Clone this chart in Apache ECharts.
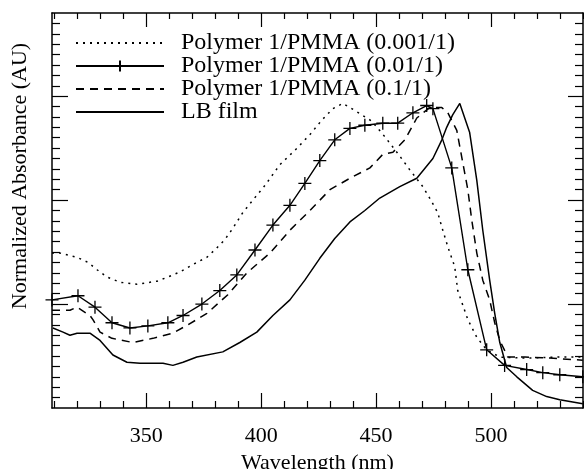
<!DOCTYPE html>
<html>
<head>
<meta charset="utf-8">
<script src="https://cdn.jsdelivr.net/npm/echarts@6/dist/echarts.min.js"></script>
<style>
html,body{margin:0;padding:0;background:#fff;}
#chart{width:584px;height:469px;}
</style>
</head>
<body>
<div id="chart"></div>
<script>
// ---- data ----
const seriesNames = ['Polymer 1/PMMA (0.001/1)', 'Polymer 1/PMMA (0.01/1)', 'Polymer 1/PMMA (0.1/1)', 'LB film'];

const wlP001 = [309.0,312.5,319.9,324.7,328.6,332.9,338.6,346.0,354.7,359.4,364.7,370.3,376.4,380.7,384.2,387.7,392.0,396.4,401.6,408.1,414.7,421.2,426.4,431.2,435.5,439.4,443.8,448.1,453.8,459.4,464.7,470.3,473.3,476.8,478.6,481.2,484.2,485.5,489.9,493.8,498.1,503.8,515.5,527.7,539.9];
const absP001 = [1.49,1.49,1.45,1.40,1.33,1.26,1.21,1.19,1.22,1.26,1.31,1.38,1.45,1.54,1.62,1.73,1.88,2.00,2.14,2.34,2.48,2.63,2.77,2.88,2.93,2.88,2.82,2.76,2.61,2.45,2.29,2.13,2.02,1.88,1.74,1.55,1.36,1.13,0.85,0.68,0.56,0.49,0.48,0.49,0.49];

const wlP01 = [309.0,320.3,327.7,335.1,342.9,350.7,359.4,366.0,374.2,382.0,389.4,397.3,405.1,412.5,419.0,425.5,432.0,438.6,445.1,452.9,459.4,466.0,472.0,474.7,482.9,489.9,498.1,505.9,515.5,522.5,529.9,539.9];
const absP01 = [1.04,1.08,0.97,0.82,0.77,0.79,0.82,0.89,1.00,1.13,1.28,1.52,1.76,1.95,2.16,2.38,2.58,2.69,2.72,2.74,2.74,2.84,2.91,2.88,2.31,1.33,0.56,0.41,0.37,0.34,0.32,0.30];

const wlP1 = [309.0,316.8,319.9,325.5,326.8,329.9,335.1,344.2,352.9,361.6,368.1,376.4,385.5,393.8,403.8,412.5,421.2,429.9,438.6,447.3,452.9,457.3,462.5,467.7,473.3,478.6,481.2,485.1,487.7,489.9,491.6,493.8,496.4,499.4,501.6,503.8,507.3,514.7,525.5,539.9];
const absP1 = [0.94,0.94,0.97,0.89,0.85,0.73,0.67,0.63,0.67,0.72,0.80,0.91,1.09,1.30,1.49,1.71,1.90,2.10,2.21,2.31,2.44,2.46,2.58,2.79,2.89,2.89,2.84,2.67,2.36,2.10,1.81,1.49,1.23,1.04,0.82,0.65,0.49,0.49,0.48,0.46];

const wlLB = [309.4,313.8,316.8,319.9,325.5,329.9,335.5,341.6,347.3,357.3,361.6,366.0,372.0,383.3,390.7,398.1,405.1,412.5,419.0,425.5,432.0,438.6,445.1,451.6,460.3,467.7,474.7,478.6,480.7,483.3,486.4,490.7,493.8,496.4,499.4,501.6,503.8,506.8,511.2,518.1,524.2,529.9,539.9];
const absLB = [0.77,0.73,0.70,0.72,0.72,0.65,0.51,0.44,0.43,0.43,0.41,0.44,0.49,0.54,0.63,0.73,0.89,1.04,1.23,1.44,1.63,1.79,1.90,2.02,2.13,2.21,2.40,2.58,2.70,2.82,2.93,2.65,2.19,1.71,1.23,0.91,0.63,0.39,0.30,0.17,0.11,0.08,0.04];

// ---- axes / ticks ----
const xMin = 309, xMax = 540;
const yMin = 0, yMax = 3.8;
const xMajorTicks = [350, 400, 450, 500];
const xMinorTicks = [310,320,330,340,360,370,380,390,410,420,430,440,460,470,480,490,510,520,530,540];
const yMajorTicks = [1, 2, 3];
const yMinorTicks = [];
for (let k = 1; k <= 37; k++) { if (k % 10 !== 0) yMinorTicks.push(+(k / 10).toFixed(1)); }

const FONT = "'Liberation Serif','Times New Roman',serif";
const zip = (xs, ys) => xs.map((x, i) => [x, ys[i]]);

function xAx(pos, ticks, len, showLine, showLabel) {
  return {
    type: 'value', min: xMin, max: xMax, position: pos,
    axisLine: { show: showLine, onZero: false, lineStyle: { color: '#000', width: 1.5 } },
    axisTick: { show: true, inside: true, length: len, customValues: ticks, lineStyle: { color: '#000', width: 1.2 } },
    axisLabel: showLabel ? { show: true, customValues: xMajorTicks, color: '#000', fontSize: 22, fontFamily: FONT, margin: 17 } : { show: false },
    splitLine: { show: false }
  };
}
function yAx(pos, ticks, len, showLine) {
  return {
    type: 'value', min: yMin, max: yMax, position: pos,
    axisLine: { show: showLine, onZero: false, lineStyle: { color: '#000', width: 1.5 } },
    axisTick: { show: true, inside: true, length: len, customValues: ticks, lineStyle: { color: '#000', width: 1.2 } },
    axisLabel: { show: false },
    splitLine: { show: false }
  };
}

const xAxes = [
  xAx('bottom', xMajorTicks, 15, true, true),
  xAx('bottom', xMinorTicks, 7, false, false),
  xAx('top', xMajorTicks, 14, true, false),
  xAx('top', xMinorTicks, 6, false, false)
];
xAxes[0].name = 'Wavelength (nm)';
xAxes[0].nameLocation = 'middle';
xAxes[0].nameGap = 44;
xAxes[0].nameTextStyle = { color: '#000', fontSize: 22, fontFamily: FONT };

const yAxes = [
  yAx('left', yMajorTicks, 16, true),
  yAx('left', yMinorTicks, 8, false),
  yAx('right', yMajorTicks, 15, true),
  yAx('right', yMinorTicks, 8, false)
];

const noSymbol = { color: 'rgba(0,0,0,0)', borderColor: 'rgba(0,0,0,0)', borderWidth: 0 };

const chart = echarts.init(document.getElementById('chart'), null, { renderer: 'canvas' });
chart.setOption({
  animation: false,
  backgroundColor: '#fff',
  grid: { left: 52, right: 1, top: 13, bottom: 61, containLabel: false, outerBoundsMode: 'none' },
  xAxis: xAxes,
  yAxis: yAxes,
  legend: {
    left: 75, top: 31, orient: 'vertical', padding: 0,
    itemWidth: 88, itemHeight: 14, itemGap: -1,
    textStyle: { color: '#000', fontSize: 24, lineHeight: 20, fontFamily: FONT, padding: [0, 0, 0, 12] },
    data: [
      { name: seriesNames[0], itemStyle: noSymbol },
      { name: seriesNames[1] },
      { name: seriesNames[2], itemStyle: noSymbol },
      { name: seriesNames[3], itemStyle: noSymbol }
    ]
  },
  graphic: [{
    type: 'text', x: 20, y: 176, rotation: Math.PI / 2,
    style: { text: 'Normalized Absorbance (AU)', font: "22px 'Liberation Serif','Times New Roman',serif", fill: '#000', align: 'center', verticalAlign: 'middle' }
  }],
  series: [
    { name: seriesNames[0], type: 'line', data: zip(wlP001, absP001), symbol: 'none',
      lineStyle: { color: '#000', width: 1.5, type: [2, 5] }, itemStyle: { color: '#000' } },
    { name: seriesNames[1], type: 'line', data: zip(wlP01, absP01),
      symbol: 'path://M6,0 L6,12 M0,6 L12,6', symbolSize: 13, showAllSymbol: true,
      lineStyle: { color: '#000', width: 1.4 }, itemStyle: { color: 'rgba(0,0,0,0)', borderColor: '#000', borderWidth: 1.3 } },
    { name: seriesNames[2], type: 'line', data: zip(wlP1, absP1), symbol: 'none',
      lineStyle: { color: '#000', width: 1.5, type: [8, 6] }, itemStyle: { color: '#000' } },
    { name: seriesNames[3], type: 'line', data: zip(wlLB, absLB), symbol: 'none',
      lineStyle: { color: '#000', width: 1.5 }, itemStyle: { color: '#000' } }
  ]
});
</script>
</body>
</html>
